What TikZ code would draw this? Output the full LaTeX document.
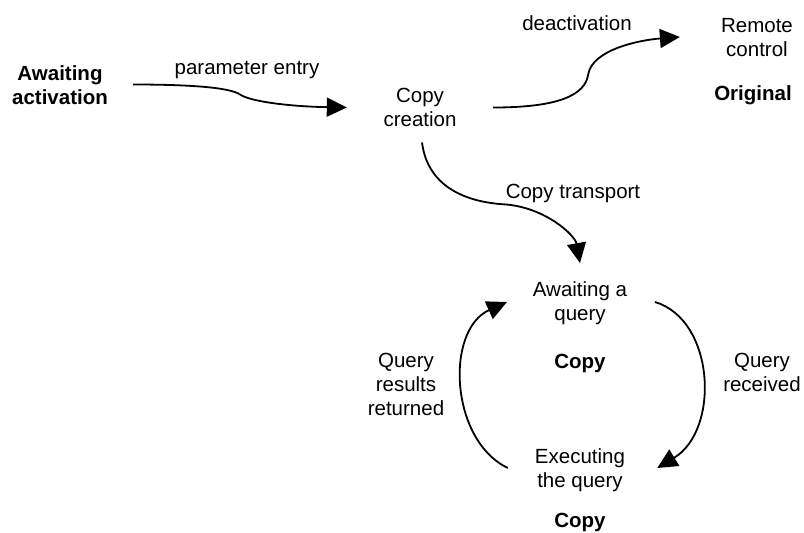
\documentclass[tikz,border=0pt]{standalone}
\usepackage{fontspec}
\setmainfont{Liberation Sans}
\usetikzlibrary{arrows.meta}
\newcommand{\mlines}[1]{\begin{tabular}[t]{@{}c@{}}#1\end{tabular}}
\begin{document}
\begin{tikzpicture}[x=1pt,y=-1pt,
  txt/.style={inner sep=0pt,anchor=base,font=\fontsize{20.5}{24}\selectfont},
  btxt/.style={txt,font=\fontsize{20.5}{24}\selectfont\bfseries},
  conn/.style={line width=1.8pt,-{Triangle[length=20pt,width=19pt]}}]
\useasboundingbox (0,0) rectangle (804,533);
% states
\node[btxt] (act) at (60,80) {\mlines{Awaiting\\activation}};
\node[txt] (cc) at (420,102) {\mlines{Copy\\creation}};
\node[txt] (rc) at (757,32) {\mlines{Remote\\control}};
\node[btxt] (orig) at (753,100) {Original};
\node[txt] (aq) at (580,296) {\mlines{Awaiting a\\query}};
\node[btxt] (copyA) at (580,368) {Copy};
\node[txt] (eq) at (580,463) {\mlines{Executing\\the query}};
\node[btxt] (copyB) at (580,527) {Copy};
% labels
\node[txt] (lpe) at (247,74) {parameter entry};
\node[txt] (lde) at (577,30) {deactivation};
\node[txt] (lct) at (573,198) {Copy transport};
\node[txt] (lqr) at (762,367) {\mlines{Query\\received}};
\node[txt] (lqrr) at (406,367) {\mlines{Query\\results\\returned}};
% connectors
\draw[conn] ([shift={(25,-2.7)}]act.east) .. controls +(57,0) and +(-10,-7) .. ([shift={(132,7.3)}]act.east)
  .. controls +(10,7) and +(-57,-1) .. ([shift={(-36.5,-1.7)}]cc.west);
\draw[conn] ([shift={(36.5,-1.7)}]cc.east) .. controls +(67,0) and +(-3,20) .. ([shift={(131.5,-34.7)}]cc.east)
  .. controls +(4,-25) and +(-40,3) .. ([shift={(-41,-2.2)}]rc.west);
\draw[conn] ([shift={(2,9)}]cc.south) .. controls +(6,47) and +(-35,-2) .. ([shift={(85,71)}]cc.south)
  .. controls +(40,3) and +(-5,-28) .. ([shift={(0,-16)}]aq.north);
\draw[conn] ([shift={(27.7,-1.2)}]aq.east) .. controls +(60,18) and +(63,-38) .. ([shift={(32,-2.2)}]eq.east);
\draw[conn] ([shift={(-27,-2.2)}]eq.west) .. controls +(-58,-28) and +(-62,28) .. ([shift={(-25.7,-1.2)}]aq.west);
\end{tikzpicture}
\end{document}
